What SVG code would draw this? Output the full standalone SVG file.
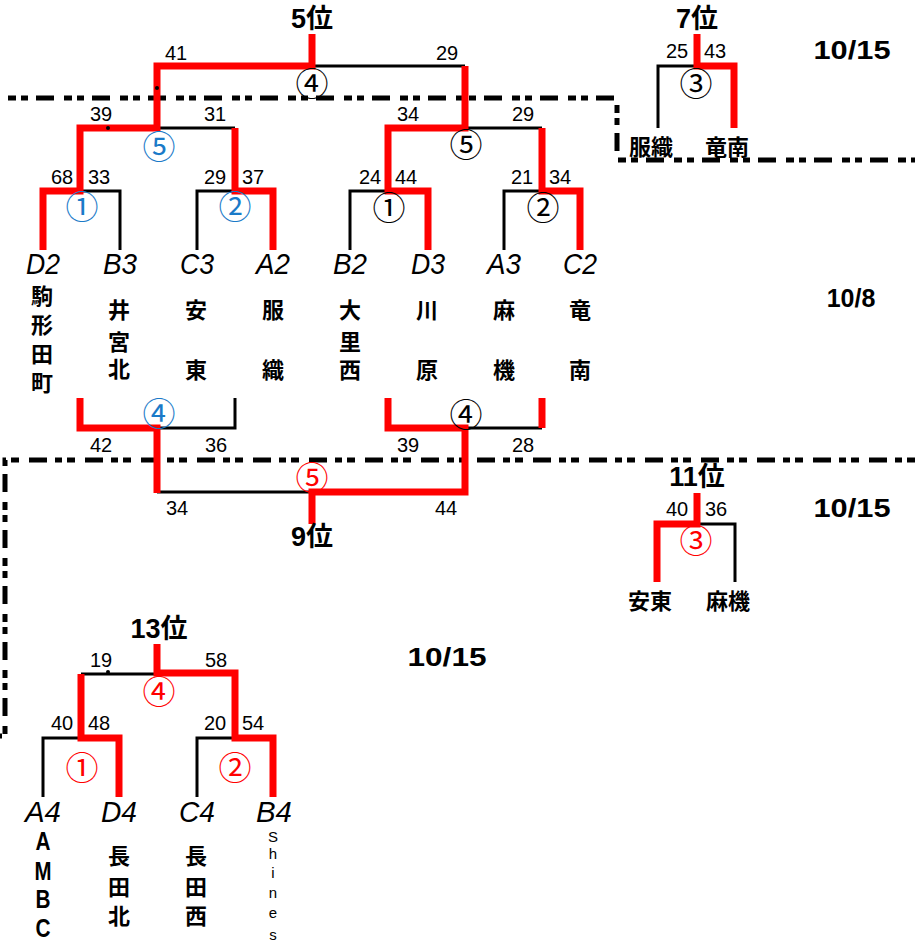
<svg xmlns="http://www.w3.org/2000/svg" width="915" height="942" viewBox="0 0 915 942">
<style>
.bk{fill:none;stroke:#000;stroke-width:3;stroke-linejoin:miter}
.rd{fill:none;stroke:#ff0000;stroke-width:7;stroke-linejoin:miter}
.ds{fill:none;stroke:#000;stroke-width:5;stroke-dasharray:8 5 7 8 18 10}
text{dominant-baseline:central;text-anchor:middle;fill:#000}
.n{font-family:"Liberation Sans",Arial,sans-serif;font-size:20px}
.rk{font-family:"Liberation Sans","Noto Sans CJK JP",sans-serif;font-size:27px;font-weight:bold}
.d{font-family:"Liberation Sans",Arial,sans-serif;font-size:25px;font-weight:bold}
.c{font-family:"Noto Sans CJK JP",sans-serif;font-size:33px}
.blue{fill:#1a7ac8}
.red{fill:#ff0000}
.tc{font-family:"Liberation Sans",Arial,sans-serif;font-size:29px;font-style:italic}
.jp{font-family:"Noto Sans CJK JP",sans-serif;font-size:22px;font-weight:bold}
.lt{font-family:"Liberation Sans",Arial,sans-serif;font-size:25px;font-weight:bold}
.sm{font-family:"Liberation Sans",Arial,sans-serif;font-size:15px}
</style>

<g id="dividers">
<path class="ds" d="M8 98 H617 V160 H915"/>
<path class="ds" d="M915 460 H5 V736 H0"/>
</g>

<g id="connectors">
<path class="bk" d="M312 66 H465"/>
<path class="bk" d="M157 128 H235"/>
<path class="bk" d="M465 128 H542"/>
<path class="bk" d="M80 191 H120 V250"/>
<path class="bk" d="M197 250 V191 H235"/>
<path class="bk" d="M350 250 V191 H388"/>
<path class="bk" d="M504 250 V191 H542"/>
<path class="bk" d="M658 128 V66 H697"/>
<path class="bk" d="M157 428 H235 V398"/>
<path class="bk" d="M157 492 H312"/>
<path class="bk" d="M465 428 H542"/>
<path class="bk" d="M697 524 H735 V582"/>
<path class="bk" d="M157 674 H81"/>
<path class="bk" d="M81 738 H43 V797"/>
<path class="bk" d="M235 738 H197 V797"/>

<path class="rd" d="M312 34 V66 H157 V128 H80 V191 H43 V250"/>
<path class="rd" d="M235 128 V191 H273 V250"/>
<path class="rd" d="M465 66 V128 H388 V191 H428 V250"/>
<path class="rd" d="M542 128 V191 H580 V250"/>
<path class="rd" d="M697 34 V66 H734 V128"/>
<path class="rd" d="M80 398 V428 H157 V493"/>
<path class="rd" d="M388 398 V428 H465 V492 H312 V524"/>
<path class="rd" d="M542 398 V428"/>
<path class="rd" d="M697 493 V524 H657 V582"/>
<path class="rd" d="M157 644 V673 H235 V738 H273 V797"/>
<path class="rd" d="M81 674 V738 H119 V797"/>
<circle cx="157" cy="88" r="2" fill="#000"/>
<circle cx="108" cy="128" r="2" fill="#000"/>
<circle cx="108" cy="672" r="2" fill="#000"/>
</g>

<g id="dates">
<text class="d" x="852" y="50" textLength="77" lengthAdjust="spacingAndGlyphs">10/15</text>
<text class="d" x="851" y="298">10/8</text>
<text class="d" x="852" y="508" textLength="77" lengthAdjust="spacingAndGlyphs">10/15</text>
<text class="d" x="447" y="657" textLength="79" lengthAdjust="spacingAndGlyphs">10/15</text>
</g>

<g id="match-top-final">
<text class="rk" x="312" y="19">5位</text>
<text class="n" x="176" y="53">41</text>
<text class="n" x="447" y="53">29</text>
<text class="c" x="312" y="82">④</text>
</g>

<g id="match-top-left-semi">
<text class="n" x="101" y="114">39</text>
<text class="n" x="215" y="114">31</text>
<text class="c blue" x="159" y="145">⑤</text>
</g>

<g id="match-top-right-semi">
<text class="n" x="408" y="114">34</text>
<text class="n" x="523" y="114">29</text>
<text class="c" x="466" y="143">⑤</text>
</g>

<g id="match-top-q1">
<text class="n" x="62" y="177">68</text>
<text class="n" x="99" y="177">33</text>
<text class="c blue" x="82" y="205">①</text>
</g>
<g id="match-top-q2">
<text class="n" x="215" y="177">29</text>
<text class="n" x="253" y="177">37</text>
<text class="c blue" x="235" y="205">②</text>
</g>
<g id="match-top-q3">
<text class="n" x="370" y="177">24</text>
<text class="n" x="406" y="177">44</text>
<text class="c" x="389" y="206">①</text>
</g>
<g id="match-top-q4">
<text class="n" x="522" y="177">21</text>
<text class="n" x="560" y="177">34</text>
<text class="c" x="543" y="206">②</text>
</g>

<g id="team-D2">
<text class="tc" x="43" y="264" textLength="34" lengthAdjust="spacingAndGlyphs">D2</text>
<text class="jp" x="42" y="294">駒</text>
<text class="jp" x="42" y="323">形</text>
<text class="jp" x="42" y="352">田</text>
<text class="jp" x="42" y="381">町</text>
</g>
<g id="team-B3">
<text class="tc" x="120" y="264" textLength="34" lengthAdjust="spacingAndGlyphs">B3</text>
<text class="jp" x="119" y="308">井</text>
<text class="jp" x="119" y="340">宮</text>
<text class="jp" x="119" y="367">北</text>
</g>
<g id="team-C3">
<text class="tc" x="197" y="264" textLength="34" lengthAdjust="spacingAndGlyphs">C3</text>
<text class="jp" x="196" y="308">安</text>
<text class="jp" x="196" y="368">東</text>
</g>
<g id="team-A2">
<text class="tc" x="273" y="264" textLength="34" lengthAdjust="spacingAndGlyphs">A2</text>
<text class="jp" x="273" y="308">服</text>
<text class="jp" x="273" y="368">織</text>
</g>
<g id="team-B2">
<text class="tc" x="350" y="264" textLength="34" lengthAdjust="spacingAndGlyphs">B2</text>
<text class="jp" x="350" y="308">大</text>
<text class="jp" x="350" y="340">里</text>
<text class="jp" x="350" y="368">西</text>
</g>
<g id="team-D3">
<text class="tc" x="428" y="264" textLength="34" lengthAdjust="spacingAndGlyphs">D3</text>
<text class="jp" x="427" y="308">川</text>
<text class="jp" x="427" y="368">原</text>
</g>
<g id="team-A3">
<text class="tc" x="504" y="264" textLength="34" lengthAdjust="spacingAndGlyphs">A3</text>
<text class="jp" x="504" y="308">麻</text>
<text class="jp" x="504" y="368">機</text>
</g>
<g id="team-C2">
<text class="tc" x="580" y="264" textLength="34" lengthAdjust="spacingAndGlyphs">C2</text>
<text class="jp" x="580" y="308">竜</text>
<text class="jp" x="580" y="368">南</text>
</g>

<g id="match-7th">
<text class="rk" x="697" y="19">7位</text>
<text class="n" x="677" y="51">25</text>
<text class="n" x="715" y="51">43</text>
<text class="c" x="696" y="82">③</text>
<text class="jp" x="651" y="145">服織</text>
<text class="jp" x="727" y="145">竜南</text>
</g>

<g id="match-lower-left">
<text class="c blue" x="159" y="412">④</text>
<text class="n" x="101" y="445">42</text>
<text class="n" x="216" y="445">36</text>
</g>
<g id="match-lower-right">
<text class="c" x="466" y="413">④</text>
<text class="n" x="408" y="445">39</text>
<text class="n" x="523" y="445">28</text>
</g>
<g id="match-9th">
<text class="c red" x="312" y="476">⑤</text>
<text class="n" x="177" y="508">34</text>
<text class="n" x="446" y="508">44</text>
<text class="rk" x="312" y="537">9位</text>
</g>

<g id="match-11th">
<text class="rk" x="697" y="477">11位</text>
<text class="n" x="677" y="509">40</text>
<text class="n" x="716" y="509">36</text>
<text class="c red" x="696" y="539">③</text>
<text class="jp" x="650" y="599">安東</text>
<text class="jp" x="728" y="599">麻機</text>
</g>

<g id="match-13th">
<text class="rk" x="159" y="629">13位</text>
<text class="n" x="101" y="660">19</text>
<text class="n" x="216" y="660">58</text>
<text class="c red" x="159" y="690">④</text>
</g>
<g id="match-13-q1">
<text class="n" x="62" y="723">40</text>
<text class="n" x="99" y="723">48</text>
<text class="c red" x="82" y="766">①</text>
</g>
<g id="match-13-q2">
<text class="n" x="215" y="723">20</text>
<text class="n" x="253" y="723">54</text>
<text class="c red" x="235" y="766">②</text>
</g>

<g id="team-A4">
<text class="tc" x="43" y="812" textLength="36" lengthAdjust="spacingAndGlyphs">A4</text>
<text class="lt" x="43" y="841" textLength="15" lengthAdjust="spacingAndGlyphs">A</text>
<text class="lt" x="43" y="871" textLength="17" lengthAdjust="spacingAndGlyphs">M</text>
<text class="lt" x="43" y="899" textLength="15" lengthAdjust="spacingAndGlyphs">B</text>
<text class="lt" x="43" y="928" textLength="15" lengthAdjust="spacingAndGlyphs">C</text>
</g>
<g id="team-D4">
<text class="tc" x="119" y="812" textLength="36" lengthAdjust="spacingAndGlyphs">D4</text>
<text class="jp" x="119" y="854">長</text>
<text class="jp" x="119" y="885">田</text>
<text class="jp" x="119" y="914">北</text>
</g>
<g id="team-C4">
<text class="tc" x="197" y="812" textLength="36" lengthAdjust="spacingAndGlyphs">C4</text>
<text class="jp" x="196" y="854">長</text>
<text class="jp" x="196" y="885">田</text>
<text class="jp" x="196" y="914">西</text>
</g>
<g id="team-B4">
<text class="tc" x="274" y="812" textLength="36" lengthAdjust="spacingAndGlyphs">B4</text>
<text class="sm" x="273" y="836">S</text>
<text class="sm" x="273" y="853">h</text>
<text class="sm" x="273" y="872">i</text>
<text class="sm" x="273" y="892">n</text>
<text class="sm" x="273" y="912">e</text>
<text class="sm" x="273" y="934">s</text>
</g>
</svg>
